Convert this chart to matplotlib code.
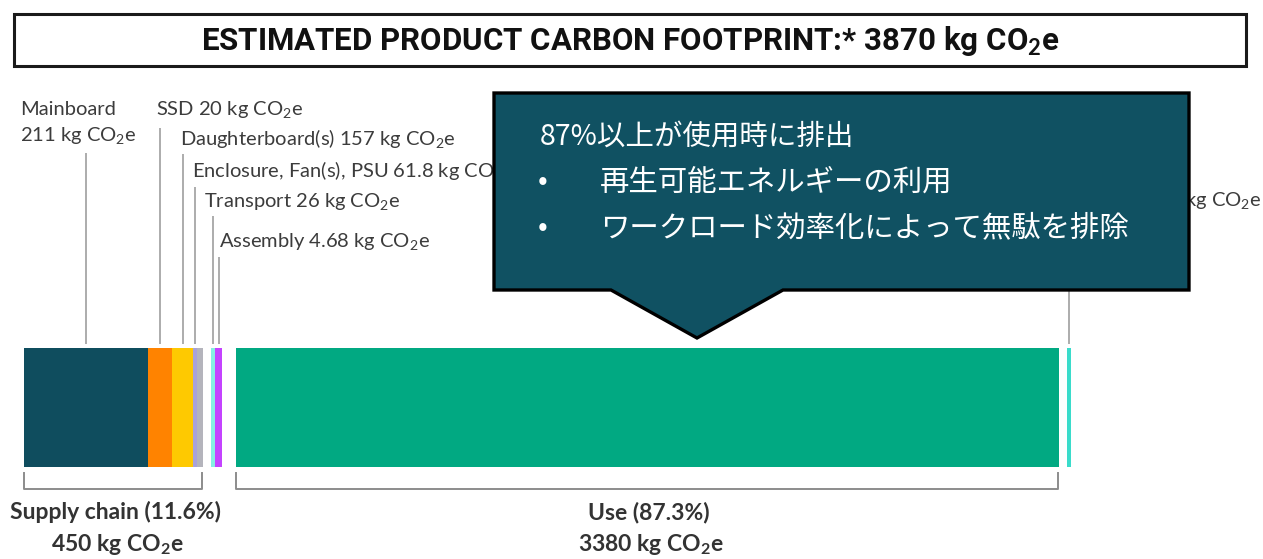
import matplotlib
matplotlib.use("Agg")
import matplotlib.pyplot as plt
from matplotlib.patches import Polygon, Rectangle
from matplotlib import font_manager as fm

# ---------------- data ----------------
segment_names = ["Mainboard", "SSD", "Daughterboard(s)", "Enclosure, Fan(s), PSU",
                 "Other", "Transport", "Assembly", "Use", "End of life"]
segment_kg = ["211", "20", "157", "61.8", "", "26", "4.68", "3380", "9.52"]
# widths of the segments as drawn in the reference (not proportional to kg)
segment_widths = [124, 24, 21, 4, 6, 4, 7, 823, 4]
segment_groups = [0, 0, 0, 0, 0, 1, 1, 2, 3]
segment_colors = ["#0F4D5E", "#FF8300", "#FEC901", "#A8A2DA", "#B4B4BC",
                  "#86F0E2", "#C443FF", "#01A982", "#3ADCCB"]
group_names = ["Supply chain (11.6%)", "Use (87.3%)"]
group_totals = ["450", "3380"]
group_bracket_segments = [(0, 4), (7, 7)]
total_kg = "3870"
callout_lines = ["87%以上が使用時に排出", "再生可能エネルギーの利用",
                 "ワークロード効率化によって無駄を排除"]


def pick(cands):
    for c in cands:
        try:
            fm.findfont(fm.FontProperties(family=c), fallback_to_default=False)
            return c
        except Exception:
            pass
    return "DejaVu Sans"


label_font = pick(["Lato", "Open Sans", "DejaVu Sans"])
title_font = pick(["Liberation Sans Narrow", "Roboto", "Lato"])
cjk_font = pick(["Noto Sans CJK JP", "Noto Sans CJK SC"])

plt.rcParams["mathtext.fontset"] = "custom"
plt.rcParams["mathtext.rm"] = label_font
plt.rcParams["mathtext.bf"] = label_font + ":bold"

fig = plt.figure(figsize=(12.63, 5.59), dpi=100)
ax = fig.add_axes([0, 0, 1, 1])
ax.set_xlim(0, 1263)
ax.set_ylim(559, 0)
ax.axis("off")

# ---------------- layout ----------------
bar_left0 = 24
group_gap = {1: 8, 2: 14, 3: 8}
bar_y, bar_h = 407.5, 119
lefts = []
x = bar_left0
prev_g = 0
for w, g in zip(segment_widths, segment_groups):
    if g != prev_g:
        x += group_gap[g]
        prev_g = g
    lefts.append(x)
    x += w

ax.barh([bar_y] * len(segment_widths), segment_widths, left=lefts, height=bar_h,
        color=segment_colors, edgecolor="none", zorder=2)

line_col = "#A6A6A6"
text_col = "#3C3C3C"
lab_fs = 14.5
# leader lines and labels: (segment index, line top y, label x, label baseline y)
label_layout = [
    (0, 153, 20, 142),
    (1, 128, 156, 116),
    (2, 154, 180, 146),
    (3, 187, 192, 178),
    (5, 216, 204, 208),
    (6, 257, 219, 248),
    (8, 200, 1261, 207),
]
for idx, ytop, lx, ly in label_layout:
    cx = lefts[idx] + segment_widths[idx] / 2
    ax.plot([cx, cx], [ytop, 344], color=line_col, lw=1.3, zorder=1,
            solid_capstyle="butt")
    txt = f"{segment_kg[idx]} kg CO$_2$e"
    if idx == 0:
        ax.text(lx, 115, segment_names[idx], fontsize=lab_fs, family=label_font,
                color=text_col, va="baseline", ha="left")
        ax.text(lx, ly, txt, fontsize=lab_fs, family=label_font,
                color=text_col, va="baseline", ha="left")
    else:
        ax.text(lx, ly, f"{segment_names[idx]} {txt}", fontsize=lab_fs,
                family=label_font, color=text_col, va="baseline",
                ha="right" if idx == 8 else "left")

# brackets and group labels
for (a, b), name, tot in zip(group_bracket_segments, group_names, group_totals):
    x0 = lefts[a]
    x1 = lefts[b] + segment_widths[b] - 1
    ax.plot([x0, x0, x1, x1], [473, 489, 489, 473], color="#8C8C8C", lw=1.4,
            zorder=1)
    xc = (x0 + x1) / 2 + 2
    ax.text(xc, 519, name, fontsize=16.5, fontweight="bold", family=label_font,
            color="#333333", ha="center", va="baseline")
    ax.text(xc + 2, 551, f"{tot} kg CO$_\\mathbf{{2}}$e", fontsize=16.5,
            fontweight="bold", family=label_font, color="#333333",
            ha="center", va="baseline")

# title box
ax.add_patch(Rectangle((14, 14), 1232, 52, facecolor="white",
                       edgecolor="#1A1A1A", lw=2.2, zorder=3))
ax.text(630, 50, f"ESTIMATED PRODUCT CARBON FOOTPRINT:* {total_kg} kg CO$_\\mathbf{{2}}$e",
        fontsize=22.5, fontweight="bold", family=title_font, color="#111111",
        ha="center", va="baseline", zorder=4)

# callout
callout = Polygon([(494, 93), (1189, 93), (1189, 290), (783, 290), (697, 338),
                   (611, 290), (494, 290)], closed=True, facecolor="#105162",
                  edgecolor="black", lw=2.4, zorder=10, joinstyle="miter")
ax.add_patch(callout)
cjk = [cjk_font, "DejaVu Sans"]
ax.text(540, 137, callout_lines[0], fontsize=20.5, family=cjk, color="white",
        ha="left", va="center", zorder=11)
for yy, line in zip([182, 228], callout_lines[1:]):
    ax.text(538, yy, "•", fontsize=21, family=cjk, color="white",
            ha="left", va="center", zorder=11)
    ax.text(600, yy, line, fontsize=21.2, family=cjk, color="white",
            ha="left", va="center", zorder=11)

fig.savefig("out.png", dpi=100)
